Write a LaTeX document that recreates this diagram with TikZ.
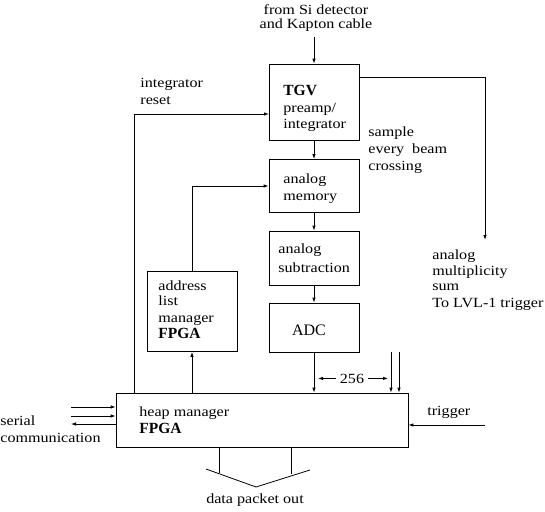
\documentclass[tikz,border=0pt]{standalone}
\usepackage{fontspec}
\setmainfont{Liberation Serif}[FakeStretch=1.15]
\newfontfamily\bigf{Liberation Serif}
\usetikzlibrary{arrows.meta}
\begin{document}
\begin{tikzpicture}[x=1pt,y=-1pt, line width=0.8pt,
  box/.style={draw, minimum width=90pt, inner sep=0},
  arr/.style={-{Latex[length=5pt,width=3.5pt]}},
  txt/.style={anchor=base west, inner sep=0, font=\fontsize{14}{16}\selectfont},
  ctxt/.style={anchor=base, inner sep=0, font=\fontsize{14}{16}\selectfont},
  big/.style={anchor=base west, inner sep=0, font=\bigf\fontsize{15.5}{18}\selectfont\bfseries},
  cbig/.style={anchor=base, inner sep=0, font=\bigf\fontsize{16}{18}\selectfont}]
\useasboundingbox (0,0) rectangle (545,511);
% boxes
\node[box, minimum height=76pt] (tgv) at (314,102) {};
\node[box, minimum height=53pt] (mem) at (314,186) {};
\node[box, minimum height=54pt] (sub) at (314,258) {};
\node[box, minimum height=49pt] (adc) at (314,327.5) {};
\node[box, minimum height=80pt] (addr) at (192,311.5) {};
\node[box, minimum width=292pt, minimum height=54pt] (heap) at (262,420) {};
% main chain
\coordinate (in) at (314,37);
\draw[arr] (in) -- (tgv.north);
\draw[arr] (tgv.south) -- (mem.north);
\draw[arr] (mem.south) -- (sub.north);
\draw[arr] (sub.south) -- (adc.north);
\draw[arr] (adc.south) -- (adc.south |- heap.north);
\draw[arr] (addr.south |- heap.north) -- (addr.south);
\draw[arr] (addr.north) |- (mem.west);
% integrator reset
\coordinate (rst0) at (134,393);
\coordinate (rst1) at (269,114);
\draw[arr] (rst0) |- (rst1);
% analog sum
\coordinate (s0) at (359,77);
\coordinate (s1) at (485,240);
\draw[arr] (s0) -| (s1);
% 256
\node[ctxt, inner xsep=4pt] (n256) at (352,383) {256};
\coordinate (w256) at (318,378);
\coordinate (e256) at (388,378);
\draw[arr] (n256.west) -- (n256.west -| w256);
\draw[arr] (n256.east) -- (n256.east -| e256);
% extra inputs
\coordinate (v1) at (391,352);
\coordinate (v2) at (399,352);
\draw[arr] (v1) -- (v1 |- heap.north);
\draw[arr] (v2) -- (v2 |- heap.north);
% trigger
\coordinate (tr) at (485,425);
\draw[arr] (tr) -- (tr -| heap.east);
% serial
\coordinate (c1) at (71,407);
\coordinate (c2) at (71,416);
\coordinate (c3) at (71,424);
\draw[arr] (c1) -- (c1 -| heap.west);
\draw[arr] (c2) -- (c2 -| heap.west);
\draw[arr] (c3 -| heap.west) -- (c3);
% data packet out
\coordinate (d1) at (219,473);
\coordinate (d2) at (291,474);
\draw (d1 |- heap.south) -- (d1);
\draw (d2 |- heap.south) -- (d2);
\coordinate (p1) at (206,469);
\coordinate (p2) at (256,487);
\coordinate (p3) at (310,470);
\draw (p1) -- (p2) -- (p3);
% texts
\node[ctxt] (t1) at (316,14.5) {from Si detector};
\node[ctxt] (t2) at (316,28.5) {and Kapton cable};
\node[big] (t3) at (283,95) {TGV};
\node[txt] (t4) at (283,112) {preamp/};
\node[txt] (t5) at (283,128) {integrator};
\node[txt] (t6) at (140,87) {integrator};
\node[txt] (t7) at (140,104) {reset};
\node[txt] (t8) at (368,136) {sample};
\node[txt] (t9) at (368,153) {every\ \ beam};
\node[txt] (t10) at (368,170) {crossing};
\node[txt] (t11) at (283,183) {analog};
\node[txt] (t12) at (283,200) {memory};
\node[txt] (t13) at (278,253) {analog};
\node[txt] (t14) at (278,272) {subtraction};
\node[cbig] (t15) at (309,335) {ADC};
\node[txt] (t16) at (158,290) {address};
\node[txt] (t17) at (158,305) {list};
\node[txt] (t18) at (158,322) {manager};
\node[big] (t19) at (158,338) {FPGA};
\node[txt] (t20) at (139,416) {heap manager};
\node[big] (t21) at (139,433) {FPGA};
\node[txt] (t22) at (0,425) {serial};
\node[txt] (t23) at (0,442) {communication};
\node[txt] (t24) at (432,259) {analog};
\node[txt] (t25) at (432,275) {multiplicity};
\node[txt] (t26) at (432,290) {sum};
\node[txt] (t27) at (432,307) {To LVL-1 trigger};
\node[txt] (t28) at (427,415) {trigger};
\node[ctxt] (t29) at (255,503) {data packet out};
\end{tikzpicture}
\end{document}
